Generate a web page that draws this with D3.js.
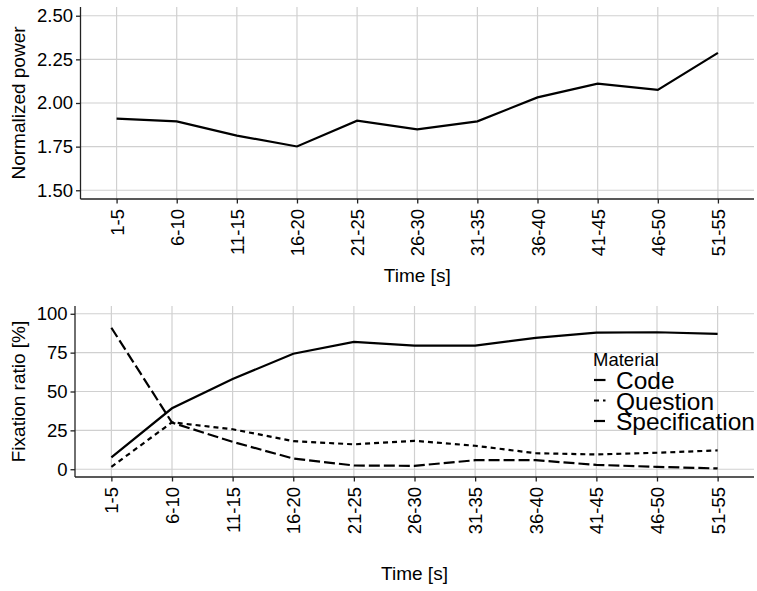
<!DOCTYPE html>
<html>
<head>
<meta charset="utf-8">
<script src="https://cdn.jsdelivr.net/npm/d3@7"></script>
<style>
  body { margin: 0; background: #fff; }
  svg text { font-family: "Liberation Sans", Arial, sans-serif; fill: #000; }
</style>
</head>
<body>
<div id="chart"></div>
<script>
const W = 757, H = 591;

// data
const times = ["1-5","6-10","11-15","16-20","21-25","26-30","31-35","36-40","41-45","46-50","51-55"];
const power = [1.91, 1.895, 1.813, 1.751, 1.899, 1.849, 1.895, 2.032, 2.111, 2.075, 2.287];
const code = [7.6, 39.2, 58, 74.3, 81.9, 79.5, 79.5, 84.5, 87.9, 88.1, 87.1];
const question = [1.5, 30.2, 25.7, 18.1, 16, 18.3, 15.1, 10.3, 9.5, 10.6, 12.1];
const specification = [91, 30, 17.6, 6.9, 2.4, 2.2, 5.8, 5.8, 2.8, 1.5, 0.5];
const powerTicks = [1.5, 1.75, 2.0, 2.25, 2.5];
const ratioTicks = [0, 25, 50, 75, 100];
const materials = ["Code", "Question", "Specification"];

const dashes = {Code: null, Question: "5,4", Specification: "11,4"};

const svg = d3.select("#chart").append("svg")
    .attr("width", W).attr("height", H);

function panel(opt) {
    const g = svg.append("g");
    const x = d3.scalePoint().domain(times).range([opt.left, opt.right]).padding(0.6);
    const y = d3.scaleLinear().domain(opt.domain).range([opt.bottom, opt.top]);

    // grid
    g.append("g").selectAll("line.h").data(opt.ticks).join("line")
        .attr("x1", opt.left).attr("x2", opt.right)
        .attr("y1", d => y(d)).attr("y2", d => y(d))
        .attr("stroke", "#d0d0d0").attr("stroke-width", 1.2);
    g.append("g").selectAll("line.v").data(times).join("line")
        .attr("x1", d => x(d)).attr("x2", d => x(d))
        .attr("y1", opt.top).attr("y2", opt.bottom)
        .attr("stroke", "#d0d0d0").attr("stroke-width", 1.2);

    // axes
    const ya = g.append("g").attr("transform", `translate(${opt.left},0)`)
        .call(d3.axisLeft(y).tickValues(opt.ticks).tickFormat(opt.fmt)
            .tickSize(4.5).tickSizeOuter(0).tickPadding(3));
    const xa = g.append("g").attr("transform", `translate(0,${opt.bottom})`)
        .call(d3.axisBottom(x).tickSize(4.5).tickSizeOuter(0).tickPadding(6));
    [ya, xa].forEach(a => {
        a.selectAll("path, line").attr("stroke", "#222").attr("stroke-width", 1.3);
        a.selectAll("text").style("font-size", "18.5px").attr("fill", "#000");
    });
    ya.select(".domain").attr("d", `M0,${opt.top}V${opt.bottom}`);
    xa.select(".domain").attr("d", `M${opt.left},0H${opt.right}`);
    xa.selectAll("text")
        .attr("transform", "rotate(-90)")
        .attr("text-anchor", "end")
        .attr("x", -10).attr("y", 0).attr("dy", "0.35em");

    // titles
    g.append("text").attr("x", (opt.left + opt.right) / 2).attr("y", opt.xTitleY)
        .attr("text-anchor", "middle").style("font-size", "19px").text("Time [s]");
    g.append("text")
        .attr("transform", `translate(25,${(opt.top + opt.bottom) / 2}) rotate(-90)`)
        .attr("text-anchor", "middle").style("font-size", "19px").text(opt.yTitle);

    return {g, x, y};
}

// top panel
const p1 = panel({left: 80.5, right: 754, top: 7, bottom: 199, domain: [1.45, 2.55],
    ticks: powerTicks, fmt: d3.format(".2f"), yTitle: "Normalized power", xTitleY: 282});

p1.g.append("path").datum(power)
    .attr("fill", "none").attr("stroke", "#000").attr("stroke-width", 2.2)
    .attr("d", d3.line().x((d, i) => p1.x(times[i])).y(d => p1.y(d)));

// bottom panel
const p2 = panel({left: 75, right: 754, top: 306, bottom: 477, domain: [-5, 105],
    ticks: ratioTicks, fmt: d3.format("d"), yTitle: "Fixation ratio [%]", xTitleY: 580});

const series = {Code: code, Question: question, Specification: specification};
materials.forEach(m => {
    p2.g.append("path").datum(series[m])
        .attr("fill", "none").attr("stroke", "#000").attr("stroke-width", 2.2)
        .attr("stroke-dasharray", dashes[m])
        .attr("d", d3.line().x((d, i) => p2.x(times[i])).y(d => p2.y(d)));
});

// legend
const lg = svg.append("g").attr("transform", "translate(593,366)");
lg.append("text").attr("x", 0).attr("y", 0).style("font-size", "18.5px").text("Material");
materials.forEach((m, i) => {
    const yy = 14 + i * 20.5;
    lg.append("line").attr("x1", 1).attr("x2", 12.5).attr("y1", yy).attr("y2", yy)
        .attr("stroke", "#000").attr("stroke-width", 2.2)
        .attr("stroke-dasharray", dashes[m]);
    lg.append("text").attr("x", 23).attr("y", yy + 9).style("font-size", "24.5px").text(m);
});
</script>
</body>
</html>
